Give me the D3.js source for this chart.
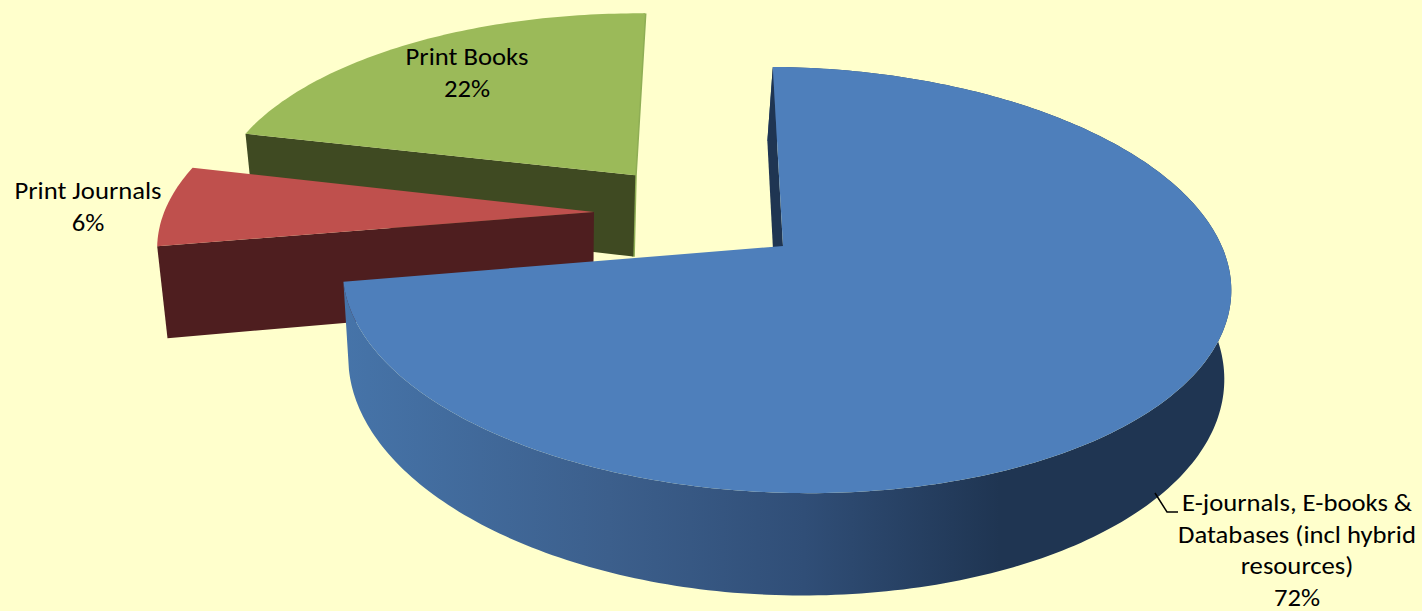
<!DOCTYPE html><meta charset="utf-8">
<title>Share of collection spend</title>
<style>
  html,body{margin:0;background:#ffffcc}
  svg{display:block}
  text{font-family:Carlito,Lato,sans-serif;font-size:23.5px;fill:#000;text-anchor:middle}
</style>
<script src="https://d3js.org/d3.v7.min.js"></script>
<body><script>
// data
const categories = ["E-journals, E-books & Databases (incl hybrid resources)", "Print Journals", "Print Books"];
const shares = [72, 6.4, 21.6];
const labelLines = [
  ["E-journals, E-books &", "Databases (incl hybrid", "resources)", "72%"],
  ["Print Journals", "6%"],
  ["Print Books", "22%"]
];

// look
const topColors  = ["#4e7fbb", "#bf504d", "#9bba59"];
const wallColors = ["#1f3552", "#4e1e1f", "#3f4a22"];
const explode    = [[0, 0], [-0.44, 0.155], [-0.35, 0.35]];
const radius     = [1, 1.01, 1.005];
const depth      = [86, 92, 86];
const labelPos   = [[1297, 511], [88, 199], [467, 65]];
const lineGap    = [31.5, 32, 32];
const stretch    = 1.135;   // the original text is wider than it is tall

/* ---- perspective of the tilted disc ---- */
const W = 1422, H = 611;
const cx = 783, cy = 246, A = 207.6, B = 438.5, F = -8, E = 6, k = 0.1596, j = -0.006;
const Xv = 560, lean = 0.0256, maxLean = 7;

function project(u, v, down){
  const den = 1 + k*v + j*u;
  let x = cx + (B*u + F*v)/den, y = cy + (-A*v + E*u)/den;
  if(down){ x -= Math.min((x - Xv)*lean, maxLean); y += down/den; }
  return [x, y];
}

const pie = d3.pie().sort(null)
  .startAngle(-0.5*Math.PI/180).endAngle((360-0.5)*Math.PI/180);
const arcs = pie(shares);
const line = d3.line();

function rim(a, i, down){
  const [ex, ey] = explode[i], r = radius[i];
  const n = Math.max(4, Math.round((a.endAngle-a.startAngle)*60));
  return d3.range(n+1).map(s=>{
    const t = a.startAngle + (a.endAngle-a.startAngle)*s/n;
    return project(ex + r*Math.sin(t), ey + r*Math.cos(t), down);
  });
}
const apex = (i, down)=>project(explode[i][0], explode[i][1], down);

const svg = d3.select("body").append("svg").attr("width", W).attr("height", H);
svg.append("rect").attr("width", W).attr("height", H).attr("fill", "#ffffcc");

// side of the big slice gets lighter to the left
const grad = svg.append("defs").append("linearGradient").attr("id", "side")
  .attr("gradientUnits", "userSpaceOnUse").attr("x1", 342).attr("x2", 1231).attr("y1", 0).attr("y2", 0);
[[0, "#4674a9"], [0.3, "#3c5f8c"], [0.52, "#304e77"], [0.74, "#1f3552"], [1, "#1f3552"]]
  .forEach(s=>grad.append("stop").attr("offset", s[0]).attr("stop-color", s[1]));

// back to front: books, journals, electronic
[2, 1, 0].forEach(i=>{
  const a = arcs[i], top = rim(a, i, 0), low = rim(a, i, depth[i]);
  const g = svg.append("g");
  // light edge along the far cut of the books slice
  if(i===2){
    g.append("path").attr("d", line([top[top.length-1], apex(i,0), apex(i,depth[i])]))
      .attr("fill", "none").attr("stroke", "#8fae55").attr("stroke-width", 3);
  }
  // outer side, only the big slice shows it
  if(i===0){
    g.append("path").attr("d", line(top.concat(low.slice().reverse()))+"Z").attr("fill", "url(#side)");
  }
  // cut face
  g.append("path").attr("d", line([apex(i,0), top[0], low[0], apex(i,depth[i])])+"Z").attr("fill", wallColors[i]);
  // upper face
  g.append("path").attr("d", line([apex(i,0)].concat(top))+"Z").attr("fill", topColors[i]);
});

// leader for the big slice
svg.append("path").attr("d", line([[1155,493],[1167,512],[1178,512]]))
  .attr("fill", "none").attr("stroke", "#000").attr("stroke-width", 1.5);

labelLines.forEach((lines, i)=>{
  lines.forEach((s, n)=>{
    svg.append("text")
      .attr("transform", `translate(${labelPos[i][0]},${labelPos[i][1]+n*lineGap[i]}) scale(${stretch},1)`)
      .text(s);
  });
});
</script>
</body>
